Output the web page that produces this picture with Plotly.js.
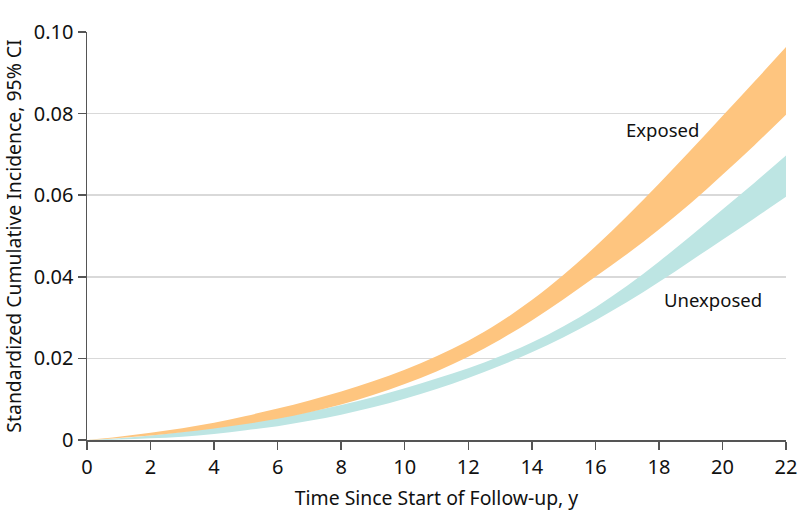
<!DOCTYPE html>
<html>
<head>
<meta charset="utf-8">
<script src="https://cdn.plot.ly/plotly-3.0.1.min.js"></script>
<style>html,body{margin:0;padding:0;background:#fff;}#chart{width:798px;height:527px;}</style>
</head>
<body>
<div id="chart"></div>
<script>
// Follow-up time, years
const years = [0,1,2,3,4,5,6,7,8,9,10,11,12,13,14,15,16,17,18,19,20,21,22];
// Exposed: 95% CI bounds of standardized cumulative incidence
const exposedUpper = [0,0.0008,0.0018,0.0029,0.0042,0.0059,0.0077,0.0097,0.0119,0.0144,0.0172,0.0205,0.0243,0.0289,0.0343,0.0405,0.0474,0.0549,0.0628,0.0710,0.0794,0.0878,0.0963];
const exposedLower = [0,0.0005,0.0011,0.0019,0.0028,0.0039,0.0052,0.0068,0.0087,0.0110,0.0137,0.0168,0.0204,0.0246,0.0293,0.0345,0.0400,0.0456,0.0516,0.0580,0.0650,0.0722,0.0797];
// Unexposed: 95% CI bounds
const unexposedUpper = [0,0.0004,0.0011,0.0020,0.0030,0.0041,0.0054,0.0069,0.0086,0.0105,0.0127,0.0151,0.0176,0.0205,0.0239,0.0279,0.0325,0.0378,0.0437,0.0500,0.0565,0.0630,0.0697];
const unexposedLower = [0,0.0001,0.0004,0.0008,0.0015,0.0024,0.0034,0.0047,0.0062,0.0080,0.0101,0.0125,0.0152,0.0182,0.0215,0.0252,0.0293,0.0338,0.0387,0.0439,0.0491,0.0543,0.0596];
// Tick labels
const xTicks = [0,2,4,6,8,10,12,14,16,18,20,22];
const yTickVals = [0,0.02,0.04,0.06,0.08,0.10];
const yTickText = ["0","0.02","0.04","0.06","0.08","0.10"];
const groupLabels = ["Exposed","Unexposed"];

const orange = "#FEC57F";
const teal = "#BDE5E3";

const ln = (c) => ({width: 0, color: c, shape: "spline", smoothing: 1});
const traces = [
  {x: years, y: unexposedLower, mode: "lines", line: ln(teal), hoverinfo: "skip", showlegend: false},
  {x: years, y: unexposedUpper, mode: "lines", line: ln(teal), fill: "tonexty", fillcolor: teal, showlegend: false, name: groupLabels[1]},
  {x: years, y: exposedLower, mode: "lines", line: ln(orange), hoverinfo: "skip", showlegend: false},
  {x: years, y: exposedUpper, mode: "lines", line: ln(orange), fill: "tonexty", fillcolor: orange, showlegend: false, name: groupLabels[0]}
];

const font = "'Noto Sans', 'Open Sans', sans-serif";

const layout = {
  width: 798, height: 527,
  margin: {l: 87, r: 12, t: 32, b: 87},
  paper_bgcolor: "#fff", plot_bgcolor: "#fff",
  font: {family: font, color: "#111", size: 18},
  showlegend: false,
  xaxis: {
    range: [0, 22], tickvals: xTicks, ticks: "outside", ticklen: 8, tickwidth: 1.5, tickcolor: "#555",
    showline: true, linecolor: "#555", linewidth: 1.5, showgrid: false, zeroline: false,
    tickfont: {size: 20, color: "#111"},
    title: {text: "Time Since Start of Follow-up, y", font: {size: 19.4, color: "#111"}, standoff: 13}
  },
  yaxis: {
    range: [0, 0.10], tickvals: yTickVals, ticktext: yTickText, ticks: "outside", ticklen: 8, tickwidth: 1.5, tickcolor: "#555",
    showline: true, linecolor: "#555", linewidth: 1.5, showgrid: true, gridcolor: "#d9d9d9", gridwidth: 1.5, zeroline: false,
    tickfont: {size: 20, color: "#111"},
    title: {text: "Standardized Cumulative Incidence, 95% CI", font: {size: 19.4, color: "#111"}, standoff: 9}
  },
  annotations: [
    {x: 18.1, y: 0.076, xref: "x", yref: "y", text: groupLabels[0], showarrow: false, font: {size: 18.5, color: "#111"}},
    {x: 19.7, y: 0.0345, xref: "x", yref: "y", text: groupLabels[1], showarrow: false, font: {size: 18.5, color: "#111"}}
  ]
};

Plotly.newPlot("chart", traces, layout, {displayModeBar: false, staticPlot: true});
</script>
</body>
</html>
